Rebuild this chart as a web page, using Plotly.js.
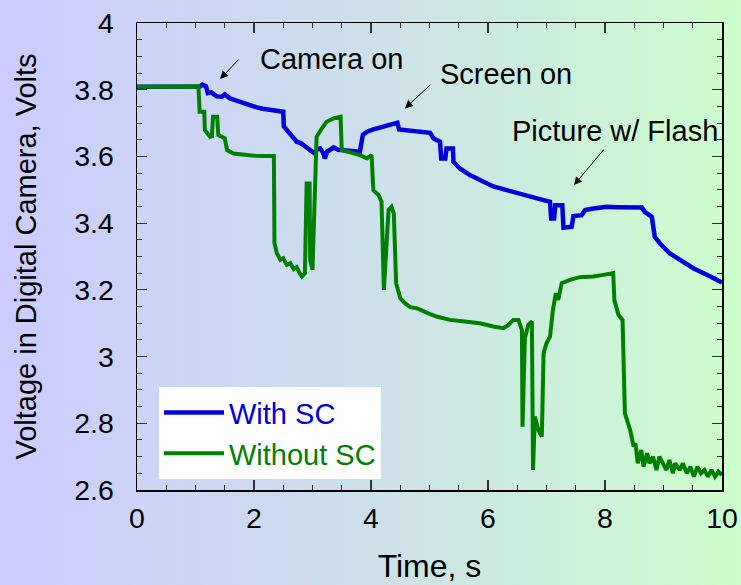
<!DOCTYPE html>
<html>
<head>
<meta charset="utf-8">
<script src="https://cdn.plot.ly/plotly-3.0.1.min.js"></script>
<style>
  html, body { margin: 0; padding: 0; }
  body { width: 741px; height: 585px; background: linear-gradient(to right, #ccccff, #cce0ea 50%, #ccffcc); }
  #chart { width: 741px; height: 585px; }
</style>
</head>
<body>
<div id="chart"></div>
<script>
// With SC
const timeWithSC = [0,0.5,1.0,1.08,1.12,1.18,1.21,1.27,1.36,1.45,
  1.50,1.55,1.59,1.70,1.82,1.95,2.05,2.15,2.27,2.40,
  2.50,2.51,2.56,2.62,2.68,2.73,2.80,2.84,2.90,2.96,
  3.04,3.08,3.13,3.18,3.21,3.25,3.30,3.36,3.44,3.52,
  3.64,3.72,3.81,3.86,3.93,4.04,4.12,4.21,4.35,4.45,
  4.48,4.61,4.72,4.84,5.01,5.07,5.18,5.20,5.27,5.29,
  5.40,5.41,5.52,5.69,5.86,6.09,6.32,6.55,6.80,6.95,
  7.06,7.08,7.13,7.15,7.27,7.29,7.43,7.46,7.60,7.66,
  7.80,8.03,8.20,8.37,8.63,8.68,8.80,8.85,8.94,9.11,
  9.28,9.51,9.74,9.97,10.0];
const voltWithSC = [3.809,3.808,3.810,3.810,3.815,3.810,3.790,3.792,3.780,3.779,
  3.786,3.781,3.774,3.767,3.759,3.752,3.747,3.743,3.739,3.736,
  3.734,3.690,3.680,3.664,3.655,3.644,3.640,3.634,3.628,3.619,
  3.609,3.622,3.624,3.612,3.594,3.615,3.620,3.627,3.620,3.618,
  3.616,3.615,3.614,3.664,3.674,3.681,3.685,3.689,3.696,3.701,
  3.681,3.679,3.676,3.674,3.671,3.654,3.644,3.594,3.594,3.624,
  3.624,3.584,3.564,3.544,3.529,3.510,3.499,3.487,3.476,3.469,
  3.464,3.414,3.414,3.454,3.454,3.386,3.389,3.421,3.424,3.439,
  3.444,3.449,3.448,3.447,3.447,3.434,3.419,3.359,3.339,3.309,
  3.290,3.265,3.245,3.225,3.222];

// Without SC
const timeWithoutSC = [0,0.5,1.0,1.05,1.07,1.15,1.16,1.25,1.28,1.30,
  1.37,1.39,1.50,1.54,1.65,1.87,2.00,2.16,2.34,2.35,
  2.39,2.45,2.50,2.56,2.62,2.68,2.73,2.78,2.82,2.87,
  2.90,2.95,2.96,3.00,3.04,3.07,3.16,3.24,3.36,3.48,
  3.50,3.58,3.70,3.81,3.93,4.01,4.04,4.13,4.18,4.22,
  4.30,4.35,4.39,4.43,4.50,4.58,4.67,4.78,4.89,5.00,
  5.12,5.35,5.60,5.86,6.09,6.26,6.35,6.43,6.52,6.58,
  6.59,6.63,6.69,6.75,6.77,6.80,6.86,6.92,6.95,7.00,
  7.06,7.11,7.16,7.20,7.26,7.40,7.57,7.80,7.97,8.14,
  8.16,8.23,8.30,8.34,8.43,8.49,8.52,8.56,8.62,8.66,
  8.72,8.76,8.82,8.88,8.93,9.00,9.05,9.10,9.16,9.20,
  9.28,9.33,9.40,9.46,9.52,9.58,9.64,9.70,9.76,9.82,
  9.88,9.94,10.0];
const voltWithoutSC = [3.809,3.810,3.809,3.810,3.734,3.734,3.679,3.659,3.660,3.719,
  3.719,3.664,3.654,3.619,3.609,3.604,3.602,3.601,3.601,3.340,
  3.310,3.290,3.295,3.275,3.280,3.262,3.268,3.250,3.240,3.250,
  3.519,3.519,3.290,3.260,3.559,3.659,3.684,3.704,3.714,3.719,
  3.619,3.614,3.609,3.604,3.594,3.604,3.499,3.484,3.464,3.200,
  3.439,3.449,3.429,3.220,3.175,3.160,3.148,3.145,3.135,3.128,
  3.120,3.110,3.105,3.100,3.090,3.085,3.095,3.110,3.110,3.080,
  2.790,3.055,3.095,3.105,2.660,2.820,2.780,2.760,3.010,3.040,
  3.060,3.140,3.190,3.170,3.220,3.230,3.238,3.240,3.245,3.250,
  3.170,3.125,3.110,2.830,2.780,2.730,2.740,2.680,2.720,2.670,
  2.710,2.680,2.700,2.660,2.700,2.680,2.660,2.690,2.650,2.680,
  2.660,2.680,2.650,2.670,2.640,2.670,2.650,2.660,2.640,2.660,
  2.640,2.655,2.645];

const seriesNames = ["With SC", "Without SC"];
const noteTexts = ["Camera on", "Screen on", "Picture w/ Flash"];

const FONT = '"Liberation Sans", Arial, sans-serif';

const traces = [
  {x: timeWithSC, y: voltWithSC, name: seriesNames[0], mode: 'lines',
   line: {color: '#0000dd', width: 4.5}},
  {x: timeWithoutSC, y: voltWithoutSC, name: seriesNames[1], mode: 'lines',
   line: {color: '#008000', width: 4}}
];

const axisCommon = {
  showgrid: false, zeroline: false,
  showline: true, linecolor: '#000', linewidth: 1.5, mirror: 'ticks',
  ticks: 'inside', ticklen: 10, tickwidth: 1.2, tickcolor: '#333',
  tickfont: {family: FONT, size: 28.5, color: '#000'}
};

const layout = {
  width: 741, height: 585,
  margin: {l: 137, r: 19, t: 23, b: 95},
  paper_bgcolor: 'rgba(0,0,0,0)', plot_bgcolor: 'rgba(0,0,0,0)',
  font: {family: FONT, color: '#000'},
  xaxis: Object.assign({}, axisCommon, {
    range: [0, 10], dtick: 2, tick0: 0,
    minor: {dtick: 0.5, ticks: 'inside', ticklen: 5, tickcolor: '#333', tickwidth: 1},
    ticklabelstandoff: 2,
    title: {text: 'Time, s', font: {family: FONT, size: 32}, standoff: 22}
  }),
  yaxis: Object.assign({}, axisCommon, {
    range: [2.6, 4], dtick: 0.2, tick0: 2.6,
    minor: {dtick: 0.05, ticks: 'inside', ticklen: 5, tickcolor: '#333', tickwidth: 1},
    ticklabelstandoff: 16,
    title: {text: 'Voltage in Digital Camera, Volts', font: {family: FONT, size: 29}, standoff: 29}
  }),
  showlegend: true,
  legend: {
    x: 0.0376, y: 0.220, xanchor: 'left', yanchor: 'top',
    bgcolor: '#ffffff', borderwidth: 0,
    font: {family: FONT, size: 29},
    itemwidth: 60,
    tracegroupgap: 0
  },
  annotations: [
    {x: 3.32, y: 3.892, xref: 'x', yref: 'y', text: noteTexts[0], showarrow: false,
     font: {family: FONT, size: 29}},
    {x: 6.31, y: 3.847, xref: 'x', yref: 'y', text: noteTexts[1], showarrow: false,
     font: {family: FONT, size: 29}},
    {x: 8.17, y: 3.676, xref: 'x', yref: 'y', text: noteTexts[2], showarrow: false,
     font: {family: FONT, size: 29}},
    {x: 1.42, y: 3.832, xref: 'x', yref: 'y', text: '', showarrow: true,
     ax: 20, ay: -21, arrowhead: 2, arrowsize: 1.6, arrowwidth: 1, arrowcolor: '#000'},
    {x: 4.58, y: 3.744, xref: 'x', yref: 'y', text: '', showarrow: true,
     ax: 27, ay: -25, arrowhead: 2, arrowsize: 1.6, arrowwidth: 1, arrowcolor: '#000'},
    {x: 7.47, y: 3.514, xref: 'x', yref: 'y', text: '', showarrow: true,
     ax: 31, ay: -37, arrowhead: 2, arrowsize: 1.6, arrowwidth: 1, arrowcolor: '#000'}
  ]
};

Plotly.newPlot('chart', traces, layout, {displayModeBar: false, staticPlot: true}).then(function () {
  // colour legend text to match its series
  const items = document.querySelectorAll('.legend .traces');
  const cols = ['#0000dd', '#008000'];
  items.forEach(function (el, i) {
    const t = el.querySelector('text.legendtext');
    if (t) t.style.fill = cols[i];
  });
});
</script>
</body>
</html>
